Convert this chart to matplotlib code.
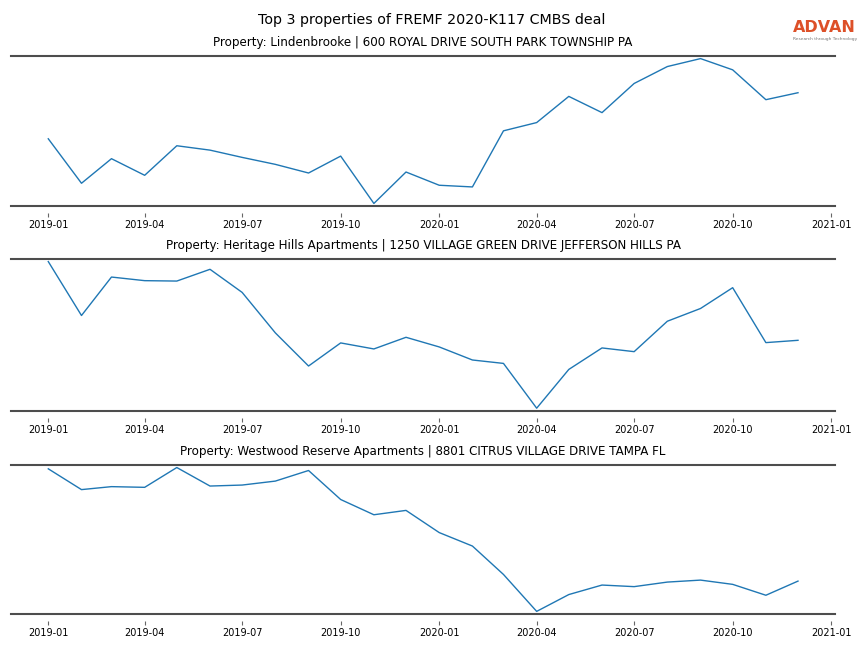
import numpy as np
import pandas as pd
import matplotlib
matplotlib.use("Agg")
from matplotlib import pyplot as plt
import matplotlib.dates as mdates

# monthly visits, Jan 2019 - Dec 2020
months = pd.date_range("2019-01-01", periods=24, freq="MS")

titles = [
    "Property: Lindenbrooke | 600 ROYAL DRIVE SOUTH PARK TOWNSHIP PA",
    "Property: Heritage Hills Apartments | 1250 VILLAGE GREEN DRIVE JEFFERSON HILLS PA",
    "Property: Westwood Reserve Apartments | 8801 CITRUS VILLAGE DRIVE TAMPA FL",
]

lindenbrooke = [1667, 1220, 1467, 1300, 1597, 1553, 1480, 1410, 1323, 1493, 1017, 1333,
                1200, 1183, 1747, 1830, 2093, 1930, 2223, 2393, 2473, 2360, 2060, 2130]
heritage_hills = [2284, 1747, 2130, 2094, 2090, 2207, 1977, 1574, 1244, 1474, 1414, 1530,
                  1434, 1304, 1270, 824, 1210, 1424, 1387, 1690, 1817, 2024, 1477, 1500]
westwood = [2054, 1844, 1874, 1867, 2067, 1880, 1890, 1930, 2037, 1744, 1590, 1634,
            1410, 1274, 987, 614, 784, 880, 864, 910, 930, 887, 777, 920]

series = [lindenbrooke, heritage_hills, westwood]

fig = plt.figure(figsize=(8.64, 6.48), dpi=100)
fig.suptitle("Top 3 properties of FREMF 2020-K117 CMBS deal", fontsize=10.3, y=0.969, va="center")

# axes boxes (left, bottom, width, height)
boxes = [(0.0125, 0.682, 0.9545, 0.2316),
         (0.0125, 0.366, 0.9545, 0.2344),
         (0.0125, 0.0525, 0.9545, 0.230)]

for box, vals, title in zip(boxes, series, titles):
    ax = fig.add_axes(box)
    ax.plot(months, vals, color="#1f77b4", lw=1.0)
    lo, hi = min(vals), max(vals)
    pad = (hi - lo) * 0.018
    ax.set_ylim(lo - pad, hi + pad)
    ax.set_title(title, fontsize=8.6, pad=7.5)
    for s in ax.spines.values():
        s.set_visible(False)
    ax.spines["bottom"].set_position(("outward", 5))
    ax.axhline(lo - pad, color="#4d4d4d", lw=1.5, clip_on=False)
    ax.axhline(hi + pad, color="#4d4d4d", lw=1.5, clip_on=False)
    ax.set_yticks([])
    ax.xaxis.set_major_locator(mdates.MonthLocator(bymonth=[1, 4, 7, 10]))
    ax.xaxis.set_major_formatter(mdates.DateFormatter("%Y-%m"))
    ax.tick_params(axis="x", labelsize=7, length=3, width=0.8, color="#666666", pad=2)

# logo
fig.text(0.9545, 0.958, "ADVAN", color="#dd5028", fontsize=11.5, fontweight="bold",
         ha="center", va="center")
fig.text(0.9545, 0.940, "Research through Technology", color="#777777", fontsize=3.2,
         ha="center", va="center")

fig.savefig("out.png", dpi=100)
